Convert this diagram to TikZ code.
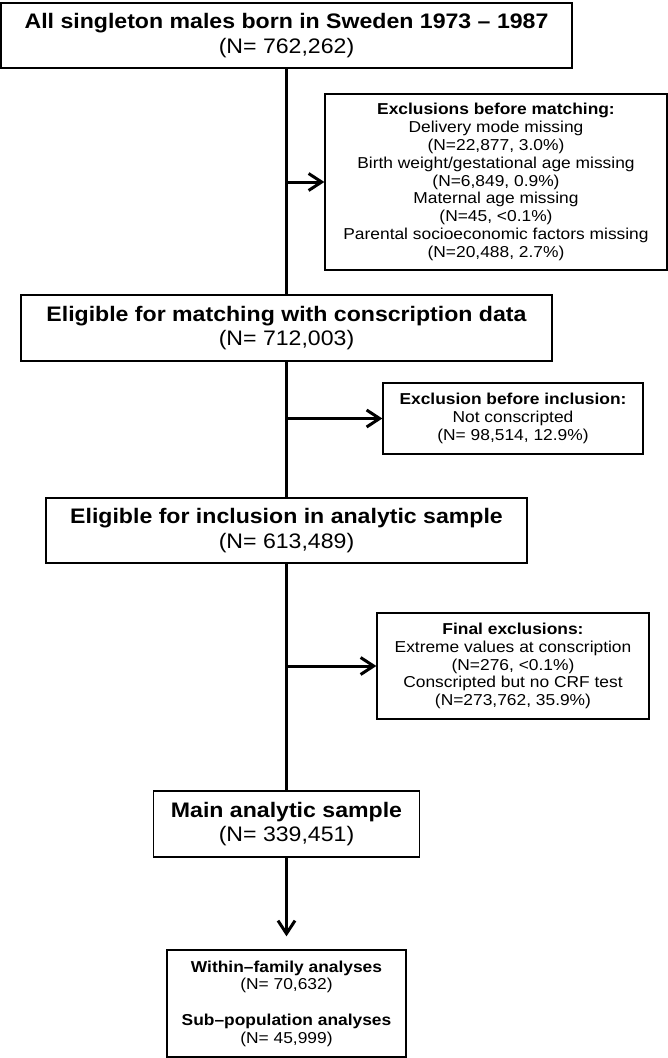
\documentclass[tikz,border=0pt]{standalone}
\usepackage{fontspec}
\setmainfont{Liberation Sans}[FakeStretch=1.1]
\usetikzlibrary{arrows.meta}

\begin{document}
\begin{tikzpicture}[x=1pt, y=1pt,
		bigbox/.style={draw, line width=1.3pt, minimum height=65pt, inner sep=0pt, align=center, font=\fontsize{21}{24.5}\selectfont},
		smallbox/.style={draw, line width=1.3pt, inner sep=0pt, align=center, font=\fontsize{15.8}{17.8}\selectfont},
		trunk/.style={line width=3pt},
		arr/.style={line width=3pt, -{Straight Barb[length=13pt, width=17pt]}}]
			\useasboundingbox (0,0) rectangle (668,-1058);
			% main flow
			\node[bigbox, minimum width=571pt] (all) at (286.5,-35.5) {\textbf{All singleton males born in Sweden 1973 – 1987}\\(N= 762,262)};
			\node[bigbox, minimum width=531pt, minimum height=66pt] (elig) at (286.5,-328) {\textbf{Eligible for matching with conscription data}\\(N= 712,003)};
			\node[bigbox, minimum width=481pt] (incl) at (286.5,-530.5) {\textbf{Eligible for inclusion in analytic sample}\\(N= 613,489)};
			\node[bigbox, minimum width=266pt, minimum height=66pt] (main) at (286.5,-824) {\textbf{Main analytic sample}\\(N= 339,451)};
			\node[smallbox, minimum width=239pt, minimum height=107pt] (sub) at (286.5,-1003.5) {\textbf{Within–family analyses}\\(N= 70,632)\\[17.8pt]\textbf{Sub–population analyses}\\(N= 45,999)};
			% exclusions
			\node[smallbox, minimum width=342pt, minimum height=176pt] (exmatch) at (496,-182) {\textbf{Exclusions before matching:}\\Delivery mode missing\\(N=22,877, 3.0\%)\\Birth weight/gestational age missing\\(N=6,849, 0.9\%)\\Maternal age missing\\(N=45, <0.1\%)\\Parental socioeconomic factors missing\\(N=20,488, 2.7\%)};
			\node[smallbox, minimum width=260pt, minimum height=71pt] (exincl) at (513,-418.5) {\textbf{Exclusion before inclusion:}\\Not conscripted\\(N= 98,514, 12.9\%)};
			\node[smallbox, minimum width=272pt, minimum height=106pt] (exfinal) at (513,-666) {\textbf{Final exclusions:}\\Extreme values at conscription\\(N=276, <0.1\%)\\Conscripted but no CRF test\\(N=273,762, 35.9\%)};
			% connectors
			\draw[trunk] (all) -- (elig);
			\draw[trunk] (elig) -- (incl);
			\draw[trunk] (incl) -- (main);
			\draw[arr] (all.south |- exmatch.west) -- (exmatch.west);
			\draw[arr] (elig.south |- exincl.west) -- (exincl.west);
			\draw[arr] (incl.south |- exfinal.west) -- (exfinal.west);
			\draw[arr, shorten >=13pt] (main) -- (sub);
		\end{tikzpicture}
\end{document}
